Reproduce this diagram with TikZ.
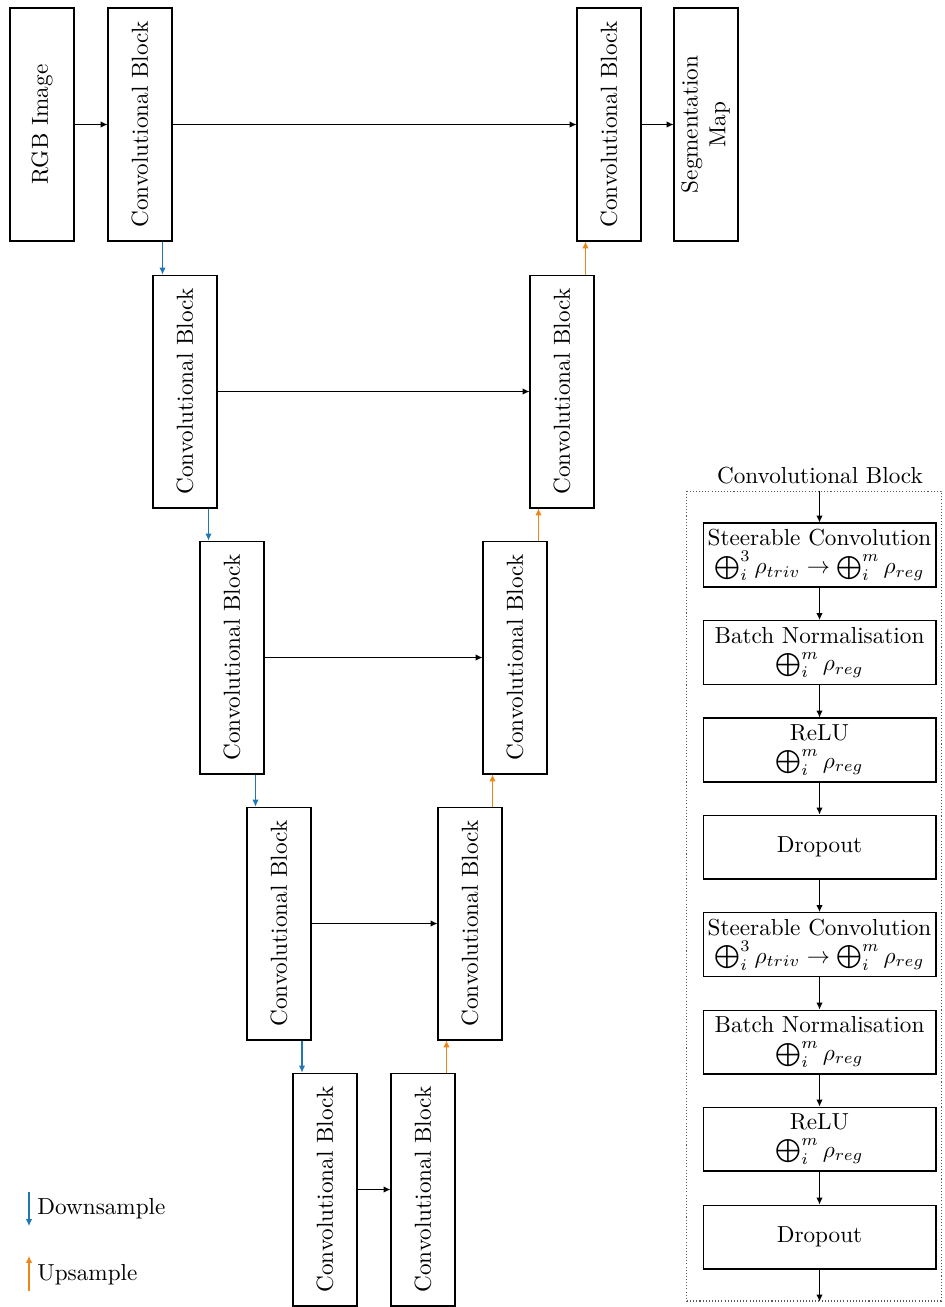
\documentclass[tikz,border=0pt]{standalone}
\usetikzlibrary{calc,arrows.meta}
\definecolor{downblue}{RGB}{31,119,180}
\definecolor{uporange}{RGB}{236,134,22}
\tikzset{
  px/.style={x=0.4314pt,y=-0.4314pt},
  blk/.style={draw,line width=0.45pt,inner sep=0pt,minimum width=27.6pt,minimum height=100.5pt,font=\normalsize},
  lay/.style={draw,line width=0.45pt,inner sep=0pt,minimum width=100.5pt,minimum height=27.6pt,align=center},
  conn/.style={line width=0.45pt,-{Latex[length=3pt,width=2.8pt]}},
  downarr/.style={conn,draw=downblue,fill=downblue},
  uparr/.style={conn,draw=uporange,fill=uporange},
}
\newcommand{\rtext}[1]{\rotatebox{90}{#1}}
\begin{document}
\begin{tikzpicture}[px]
\useasboundingbox (0,0) rectangle (944,1307);
% U-Net blocks
\node[blk] (rgb) at (42,124.5) {\rtext{RGB Image}};
\node[blk] (c1) at (140,124.5) {\rtext{Convolutional Block}};
\node[blk] (c2) at (185,391.5) {\rtext{Convolutional Block}};
\node[blk] (c3) at (232,657.5) {\rtext{Convolutional Block}};
\node[blk] (c4) at (279,923.5) {\rtext{Convolutional Block}};
\node[blk] (c5) at (325,1189.5) {\rtext{Convolutional Block}};
\node[blk] (c6) at (423,1189.5) {\rtext{Convolutional Block}};
\node[blk] (c7) at (470,923.5) {\rtext{Convolutional Block}};
\node[blk] (c8) at (515,657.5) {\rtext{Convolutional Block}};
\node[blk] (c9) at (562,391.5) {\rtext{Convolutional Block}};
\node[blk] (c10) at (609,124.5) {\rtext{Convolutional Block}};
\node[blk] (seg) at (706,124.5) {\rtext{\begin{tabular}{@{}c@{}}Segmentation\\Map\end{tabular}}};
% horizontal connectors
\draw[conn] (rgb) -- (c1);
\draw[conn] (c1) -- (c10);
\draw[conn] (c2) -- (c9);
\draw[conn] (c3) -- (c8);
\draw[conn] (c4) -- (c7);
\draw[conn] (c5) -- (c6);
\draw[conn] (c10) -- (seg);
% downsampling
\coordinate (d1) at ($(c1.south east)!.5!(c2.north west)$);
\coordinate (d2) at ($(c2.south east)!.5!(c3.north west)$);
\coordinate (d3) at ($(c3.south east)!.5!(c4.north west)$);
\coordinate (d4) at ($(c4.south east)!.5!(c5.north west)$);
\draw[downarr] (d1 |- c1.south) -- (d1 |- c2.north);
\draw[downarr] (d2 |- c2.south) -- (d2 |- c3.north);
\draw[downarr] (d3 |- c3.south) -- (d3 |- c4.north);
\draw[downarr] (d4 |- c4.south) -- (d4 |- c5.north);
% upsampling
\coordinate (u1) at ($(c6.north east)!.5!(c7.south west)$);
\coordinate (u2) at ($(c7.north east)!.5!(c8.south west)$);
\coordinate (u3) at ($(c8.north east)!.5!(c9.south west)$);
\coordinate (u4) at ($(c9.north east)!.5!(c10.south west)$);
\draw[uparr] (u1 |- c6.north) -- (u1 |- c7.south);
\draw[uparr] (u2 |- c7.north) -- (u2 |- c8.south);
\draw[uparr] (u3 |- c8.north) -- (u3 |- c9.south);
\draw[uparr] (u4 |- c9.north) -- (u4 |- c10.south);
% legend
\coordinate (dsA) at (29,1192);
\coordinate (dsB) at (29,1226);
\coordinate (usA) at (29,1291);
\coordinate (usB) at (29,1256);
\draw[downarr] (dsA) -- (dsB);
\draw[uparr] (usA) -- (usB);
\node[anchor=west,inner sep=0pt] (dsl) at (37,1209) {Downsample};
\node[anchor=west,inner sep=0pt] (usl) at (37,1275) {Upsample};
% block detail
\node (ttl) at (820,476) {Convolutional Block};
\node[draw=black!65,dash pattern=on 0.45pt off 0.9pt,line width=0.45pt,minimum width=109.6pt,minimum height=349.4pt,inner sep=0pt] (frame) at (814,896) {};
\node[lay] (s1) at (819.5,555) {Steerable Convolution\\$\bigoplus_i^3 \rho_{triv} \to \bigoplus_i^m \rho_{reg}$};
\node[lay] (b1) at (819.5,652.5) {Batch Normalisation\\$\bigoplus_i^m \rho_{reg}$};
\node[lay] (r1) at (819.5,750) {ReLU\\$\bigoplus_i^m \rho_{reg}$};
\node[lay] (p1) at (819.5,847) {Dropout};
\node[lay] (s2) at (819.5,944.5) {Steerable Convolution\\$\bigoplus_i^3 \rho_{triv} \to \bigoplus_i^m \rho_{reg}$};
\node[lay] (b2) at (819.5,1042) {Batch Normalisation\\$\bigoplus_i^m \rho_{reg}$};
\node[lay] (r2) at (819.5,1139) {ReLU\\$\bigoplus_i^m \rho_{reg}$};
\node[lay] (p2) at (819.5,1237) {Dropout};
\draw[conn] (frame.north -| s1.north) -- (s1.north);
\draw[conn] (s1) -- (b1);
\draw[conn] (b1) -- (r1);
\draw[conn] (r1) -- (p1);
\draw[conn] (p1) -- (s2);
\draw[conn] (s2) -- (b2);
\draw[conn] (b2) -- (r2);
\draw[conn] (r2) -- (p2);
\draw[conn] (p2.south) -- (p2.south |- frame.south);
\end{tikzpicture}
\end{document}
